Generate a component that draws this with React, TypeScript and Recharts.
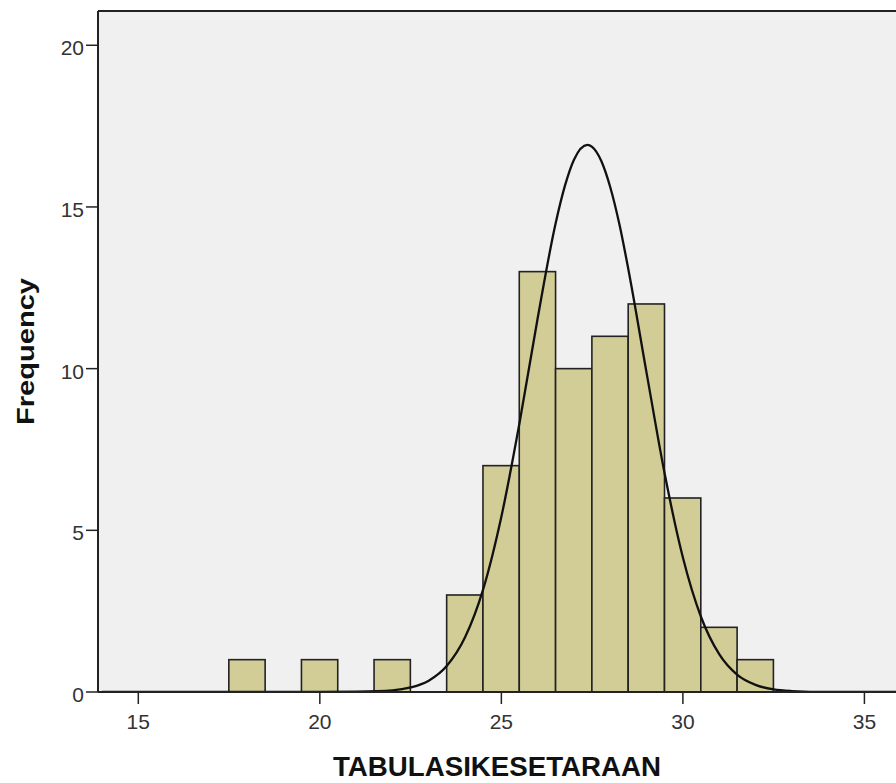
import { ComposedChart, Bar, Line, XAxis, YAxis, CartesianGrid, ReferenceLine, Label } from 'recharts'

// histogram bins (width 1, centred on the integer)
const binCenters = [18, 20, 22, 24, 25, 26, 27, 28, 29, 30, 31, 32]
const binCounts = [1, 1, 1, 3, 7, 13, 10, 11, 12, 6, 2, 1]

// normal curve
const curveX = [14, 20, 21, 22, 22.5, 23, 23.5, 24, 24.5, 25, 25.5, 26, 26.5, 26.75, 27, 27.37, 27.5, 27.75, 28, 28.25, 28.5, 29, 29.5, 30, 30.5, 31, 31.5, 32, 32.5, 33, 34, 35.87]
const curveY = [0, 0, 0.01, 0.05, 0.14, 0.35, 0.81, 1.69, 3.18, 5.42, 8.32, 11.56, 14.52, 15.65, 16.46, 16.92, 16.86, 16.43, 15.61, 14.47, 13.06, 9.87, 6.74, 4.16, 2.32, 1.17, 0.53, 0.22, 0.08, 0.03, 0, 0]

const xTicks = [15, 20, 25, 30, 35]
const yTicks = [0, 5, 10, 15, 20]

const X_MIN = 13.89
const X_MAX = 35.87
const Y_MAX = 21.06

const WIDTH = 896
const HEIGHT = 783
const Y_AXIS_W = 98
const BIN_PX = (WIDTH - Y_AXIS_W) / (X_MAX - X_MIN)

const FONT = 'Liberation Sans, Arial, sans-serif'
const INK = '#222'

const buildRows = () => {
  const xs = Array.from(new Set([...binCenters, ...curveX])).sort((a, b) => a - b)
  return xs.map((x) => {
    const bi = binCenters.indexOf(x)
    const ci = curveX.indexOf(x)
    return {
      x,
      count: bi >= 0 ? binCounts[bi] : undefined,
      curve: ci >= 0 ? curveY[ci] : undefined,
    }
  })
}

const data = buildRows()

const BinShape = (props: any) => {
  const { x, y, width, height, payload } = props
  if (!payload || payload.count == null || !height) return <g />
  const cx = x + width / 2
  return (
    <rect
      x={cx - BIN_PX / 2}
      y={y}
      width={BIN_PX}
      height={height}
      fill="#d2cd97"
      stroke={INK}
      strokeWidth={1.6}
    />
  )
}

const XTick = ({ x, y, payload }: any) => (
  <text x={x} y={y} dy={23} textAnchor="middle" fontSize={21} fill="#333" fontFamily={FONT}>
    {payload.value}
  </text>
)

const YTick = ({ x, y, payload }: any) => (
  <text x={x} y={y} dy={10} textAnchor="end" fontSize={21} fill="#333" fontFamily={FONT}>
    {payload.value}
  </text>
)

const App = () => {
  return (
    <div style={{ position: 'absolute', left: 0, top: 0, width: WIDTH, height: HEIGHT }}>
      <ComposedChart width={WIDTH} height={HEIGHT} data={data} margin={{ top: 11, right: 0, bottom: 7, left: 0 }}>
        <CartesianGrid horizontal={false} vertical={false} fill="#f0f0f0" stroke="none" />
        <Bar dataKey="count" barSize={BIN_PX} shape={<BinShape />} isAnimationActive={false} />
        <Line
          dataKey="curve"
          type="monotone"
          stroke="#111"
          strokeWidth={2.3}
          dot={false}
          activeDot={false}
          connectNulls
          isAnimationActive={false}
        />
        <ReferenceLine y={Y_MAX} stroke={INK} strokeWidth={2} />
        <XAxis
          dataKey="x"
          type="number"
          domain={[X_MIN, X_MAX]}
          allowDataOverflow
          ticks={xTicks}
          height={84}
          tickSize={12}
          tick={<XTick />}
          axisLine={{ stroke: INK, strokeWidth: 2 }}
          tickLine={{ stroke: INK, strokeWidth: 1.5 }}
        >
          <Label
            content={({ viewBox }: any) => (
              <text
                x={viewBox.x + viewBox.width / 2}
                y={viewBox.y + viewBox.height}
                textAnchor="middle"
                fontSize={27}
                fontWeight="bold"
                fontFamily={FONT}
                fill="#111"
                textLength={328}
                lengthAdjust="spacingAndGlyphs"
              >
                TABULASIKESETARAAN
              </text>
            )}
          />
        </XAxis>
        <YAxis
          type="number"
          domain={[0, Y_MAX]}
          allowDataOverflow
          ticks={yTicks}
          width={Y_AXIS_W}
          tickSize={12}
          tick={<YTick />}
          axisLine={{ stroke: INK, strokeWidth: 2 }}
          tickLine={{ stroke: INK, strokeWidth: 1.5 }}
        >
          <Label
            content={({ viewBox }: any) => {
              const cx = viewBox.x + 34
              const cy = viewBox.y + viewBox.height / 2
              return (
                <text
                  x={cx}
                  y={cy}
                  transform={`rotate(-90 ${cx} ${cy})`}
                  textAnchor="middle"
                  fontSize={24}
                  fontWeight="bold"
                  fontFamily={FONT}
                  fill="#111"
                  textLength={147}
                  lengthAdjust="spacingAndGlyphs"
                >
                  Frequency
                </text>
              )
            }}
          />
        </YAxis>
      </ComposedChart>
    </div>
  )
}

export default App
